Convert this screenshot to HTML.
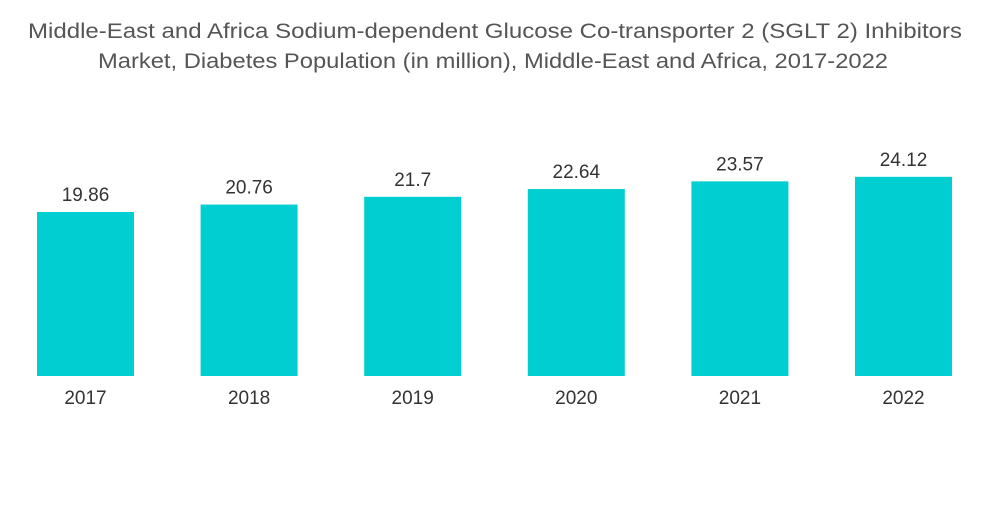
<!DOCTYPE html>
<html><head><meta charset="utf-8"><style>
body{margin:0;background:#fff;width:1000px;height:504px;overflow:hidden;font-family:"Liberation Sans",sans-serif}
</style></head><body>
<svg width="1000" height="504">
<text x="495" y="38" text-anchor="middle" font-size="21" fill="#555" textLength="934" lengthAdjust="spacingAndGlyphs">Middle-East and Africa Sodium-dependent Glucose Co-transporter 2 (SGLT 2) Inhibitors</text>
<text x="493" y="68" text-anchor="middle" font-size="21" fill="#555" textLength="790" lengthAdjust="spacingAndGlyphs">Market, Diabetes Population (in million), Middle-East and Africa, 2017-2022</text>
<g id="bars"></g>
</svg>
<script>
const categories=["2017","2018","2019","2020","2021","2022"];
const values=[19.86,20.76,21.7,22.64,23.57,24.12];
const labels=["19.86","20.76","21.7","22.64","23.57","24.12"];
const base=376, scale=164/19.86, x0=85.5, step=163.6, bw=97;
const y=v=>base-v*scale, x=i=>x0+i*step;
const g=document.getElementById('bars'), NS="http://www.w3.org/2000/svg";
categories.forEach((c,i)=>{
 const r=document.createElementNS(NS,'rect');
 r.setAttribute('x',x(i)-bw/2);r.setAttribute('y',y(values[i]));
 r.setAttribute('width',bw);r.setAttribute('height',base-y(values[i]));
 r.setAttribute('fill','#00ced1');
 
 
 g.appendChild(r);
 const t=document.createElementNS(NS,'text');
 t.setAttribute('x',x(i));t.setAttribute('y',y(values[i])-11);
 t.setAttribute('text-anchor','middle');t.setAttribute('font-size','19');t.setAttribute('fill','#333');
 t.textContent=labels[i];
 
 
 g.appendChild(t);
 const l=document.createElementNS(NS,'text');
 l.setAttribute('x',x(i));l.setAttribute('y',404);
 l.setAttribute('text-anchor','middle');l.setAttribute('font-size','19');l.setAttribute('fill','#333');
 l.textContent=c;
 
 
 g.appendChild(l);
});
</script>
</body></html>
